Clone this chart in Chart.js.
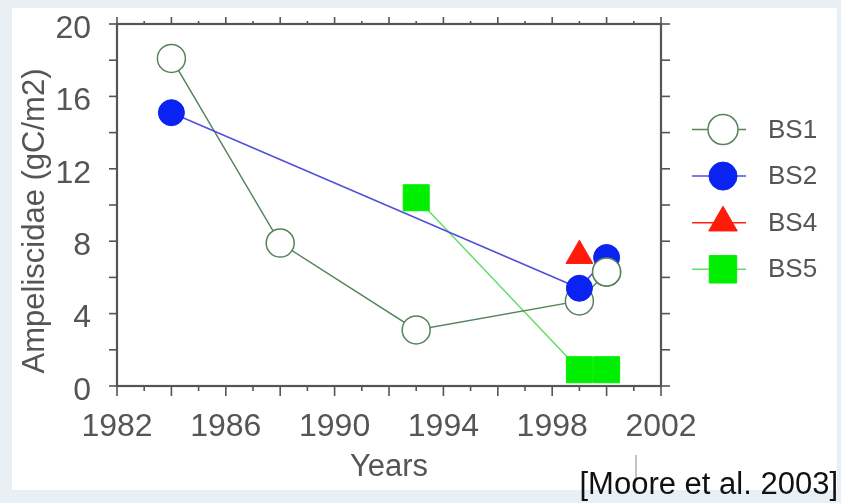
<!DOCTYPE html>
<html>
<head>
<meta charset="utf-8">
<script src="https://cdn.jsdelivr.net/npm/chart.js@4/dist/chart.umd.min.js"></script>
<style>
  html, body { margin: 0; padding: 0; background: #e8f0f6; }
  #wrap { position: relative; width: 841px; height: 503px; }
</style>
</head>
<body>
<div id="wrap"><canvas id="c"></canvas></div>
<script>
// Ampeliscidae biomass by station and year
const bs1Years = [1984, 1988, 1993, 1999, 2000];
const bs1Values = [18.1, 7.9, 3.1, 4.7, 6.3];
const bs2Years = [1984, 1999, 2000];
const bs2Values = [15.1, 5.4, 7.1];
const bs4Years = [1999];
const bs4Values = [7.2];
const bs5Years = [1993, 1999, 2000];
const bs5Values = [10.4, 0.9, 0.9];

const seriesNames = ['BS1', 'BS2', 'BS4', 'BS5'];
const xTickLabels = [1982, 1986, 1990, 1994, 1998, 2002];
const yTickLabels = [0, 4, 8, 12, 16, 20];

const FONT = '"Liberation Sans", Arial, sans-serif';
const TEXT = '#555555';

const pts = (xs, ys) => xs.map((x, i) => ({ x: x, y: ys[i] }));

// axes keep a fixed size, without extra room for overhanging labels
const fixSize = size => s => {
  if (s.isHorizontal()) s.height = size; else s.width = size;
  s.paddingTop = s.paddingBottom = s.paddingLeft = s.paddingRight = 0;
};

// page background and white panel
const panel = {
  id: 'panel',
  beforeDraw(chart) {
    const ctx = chart.ctx;
    ctx.save();
    ctx.fillStyle = '#e8f0f6';
    ctx.fillRect(0, 0, chart.width, chart.height);
    ctx.fillStyle = '#ffffff';
    ctx.fillRect(12, 8, 825, 482);
    ctx.restore();
  }
};

// boxed frame with outward major/minor ticks on all four sides
const frameTicks = {
  id: 'frameTicks',
  beforeDatasetsDraw(chart) {
    const { ctx, chartArea: a, scales: { x, y } } = chart;
    ctx.save();
    ctx.strokeStyle = '#555555';
    ctx.lineCap = 'butt';
    const seg = (x1, y1, x2, y2) => { ctx.beginPath(); ctx.moveTo(x1, y1); ctx.lineTo(x2, y2); ctx.stroke(); };
    ctx.lineWidth = 1.6;
    for (let yr = x.min; yr <= x.max; yr++) {
      const px = x.getPixelForValue(yr);
      const major = yr % 2 === 0;
      seg(px, a.bottom, px, a.bottom + (major ? 10 : 5));
      seg(px, a.top, px, a.top - (major ? 7 : 3));
    }
    for (let v = y.min; v <= y.max; v += 2) {
      const py = y.getPixelForValue(v);
      seg(a.left - 8, py, a.left, py);
      seg(a.right, py, a.right + 9, py);
    }
    ctx.lineWidth = 2.2;
    ctx.strokeRect(a.left, a.top, a.right - a.left, a.bottom - a.top);
    ctx.restore();
  }
};

// the BS1 marker for 2000 sits above the BS2 marker of the same year
const raiseLastBs1 = {
  id: 'raiseLastBs1',
  afterDatasetsDraw(chart) {
    const meta = chart.getDatasetMeta(0);
    const el = meta.data[meta.data.length - 1];
    if (el) el.draw(chart.ctx, chart.chartArea);
  }
};

// legend: line sample through the marker, label to the right
const sideLegend = {
  id: 'sideLegend',
  afterDraw(chart) {
    const ctx = chart.ctx;
    ctx.save();
    chart.data.datasets.forEach((ds, i) => {
      const cy = 129.5 + i * 46.6;
      ctx.strokeStyle = ds.borderColor;
      ctx.lineWidth = 1.5;
      ctx.beginPath(); ctx.moveTo(692, cy); ctx.lineTo(746, cy); ctx.stroke();
      ctx.fillStyle = ds.pointBackgroundColor;
      ctx.strokeStyle = ds.pointBorderColor;
      ctx.lineWidth = ds.pointBorderWidth;
      Chart.helpers.drawPoint(ctx, { pointStyle: ds.pointStyle, radius: ds.pointRadius + 1, borderWidth: ds.pointBorderWidth, rotation: 0 }, 723, cy);
      ctx.fillStyle = TEXT;
      ctx.font = '26px ' + FONT;
      ctx.textAlign = 'left';
      ctx.textBaseline = 'middle';
      ctx.fillText(ds.label, 768, cy + 1);
    });
    ctx.restore();
  }
};

// rotated y title, source note
const annotations = {
  id: 'annotations',
  afterDraw(chart) {
    const ctx = chart.ctx;
    ctx.save();
    ctx.fillStyle = TEXT;
    ctx.font = '31px ' + FONT;
    ctx.translate(35, 221);
    ctx.rotate(-Math.PI / 2);
    ctx.textAlign = 'center';
    ctx.textBaseline = 'middle';
    ctx.fillText('Ampeliscidae (gC/m2)', 0, 0);
    ctx.restore();

    ctx.save();
    ctx.strokeStyle = '#c4c4c4';
    ctx.lineWidth = 2;
    ctx.beginPath(); ctx.moveTo(636, 455); ctx.lineTo(636, 480); ctx.stroke();
    ctx.fillStyle = '#111111';
    ctx.font = '31px ' + FONT;
    ctx.textAlign = 'right';
    ctx.textBaseline = 'alphabetic';
    ctx.fillText('[Moore et al. 2003]', 838, 494);
    ctx.restore();
  }
};

new Chart(document.getElementById('c'), {
  type: 'scatter',
  data: {
    datasets: [
      {
        label: seriesNames[0], data: pts(bs1Years, bs1Values), order: 1,
        showLine: true, borderColor: '#55835a', borderWidth: 1.5,
        pointStyle: 'circle', pointRadius: 14, pointBackgroundColor: '#ffffff',
        pointBorderColor: '#55835a', pointBorderWidth: 1.5, clip: false
      },
      {
        label: seriesNames[1], data: pts(bs2Years, bs2Values), order: 0,
        showLine: true, borderColor: '#5050dc', borderWidth: 1.5,
        pointStyle: 'circle', pointRadius: 13, pointBackgroundColor: '#0a22f2',
        pointBorderColor: '#0a22f2', pointBorderWidth: 1, clip: false
      },
      {
        label: seriesNames[2], data: pts(bs4Years, bs4Values), order: 2,
        showLine: true, borderColor: '#ff2010', borderWidth: 1.5,
        pointStyle: 'triangle', pointRadius: 15.5, pointBackgroundColor: '#ff1a0a',
        pointBorderColor: '#ff1a0a', pointBorderWidth: 1, clip: false
      },
      {
        label: seriesNames[3], data: pts(bs5Years, bs5Values), order: 3,
        showLine: true, borderColor: '#66dd66', borderWidth: 1.5,
        pointStyle: 'rect', pointRadius: 18.4, pointBackgroundColor: '#00ee00',
        pointBorderColor: '#00ee00', pointBorderWidth: 1, clip: false
      }
    ]
  },
  options: {
    responsive: true,
    maintainAspectRatio: false,
    animation: false,
    events: [],
    layout: { padding: { left: 0, top: 24, right: 180, bottom: 0 } },
    plugins: { legend: { display: false }, tooltip: { enabled: false } },
    scales: {
      x: {
        type: 'linear',
        min: xTickLabels[0], max: xTickLabels[xTickLabels.length - 1],
        grid: { display: false, drawTicks: false },
        border: { display: false },
        afterBuildTicks: s => { s.ticks = xTickLabels.map(v => ({ value: v })); },
        afterFit: fixSize(117),
        ticks: {
          autoSkip: false, maxRotation: 0, padding: 22, color: TEXT,
          font: { family: FONT, size: 32 },
          callback: v => String(v)
        },
        title: {
          display: true, text: 'Years', color: TEXT,
          font: { family: FONT, size: 31 },
          padding: { top: 0, bottom: 17 }
        }
      },
      y: {
        type: 'linear',
        min: yTickLabels[0], max: yTickLabels[yTickLabels.length - 1],
        grid: { display: false, drawTicks: false },
        border: { display: false },
        afterBuildTicks: s => { s.ticks = yTickLabels.map(v => ({ value: v })); },
        afterFit: fixSize(117),
        ticks: {
          padding: 26, labelOffset: 5, color: TEXT,
          font: { family: FONT, size: 32 }
        }
      }
    }
  },
  plugins: [panel, frameTicks, raiseLastBs1, sideLegend, annotations]
});
</script>
</body>
</html>
